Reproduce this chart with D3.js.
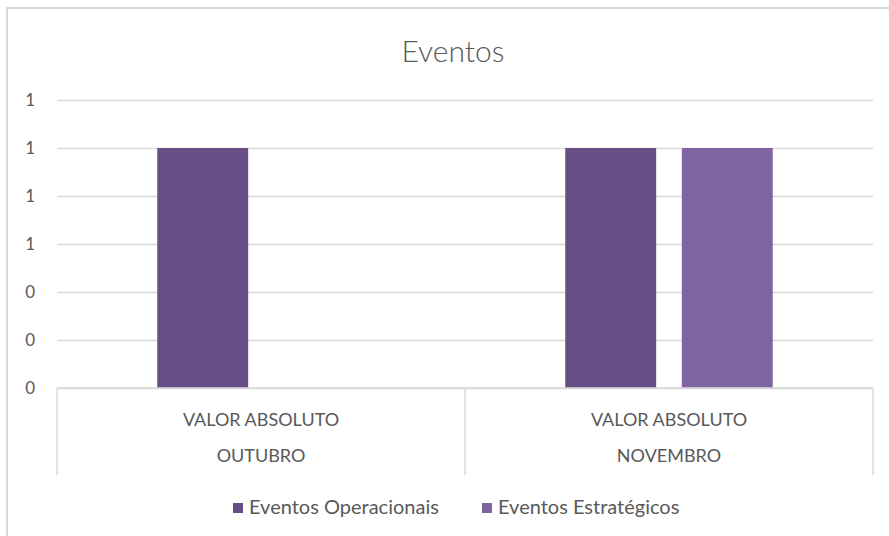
<!DOCTYPE html>
<html>
<head>
<meta charset="utf-8">
<script src="https://cdn.jsdelivr.net/npm/d3@7"></script>
<style>
  body { margin: 0; background: #fff; }
  text { font-family: "Lato", sans-serif; fill: #595959; }
</style>
</head>
<body>
<svg width="889" height="536"></svg>
<script>
  const title = 'Eventos';
  const months = ['OUTUBRO', 'NOVEMBRO'];
  const measureLabel = 'VALOR ABSOLUTO';
  const seriesNames = ['Eventos Operacionais', 'Eventos Estratégicos'];
  const operacionais = [1, 1];
  const estrategicos = [0, 1];
  const yTicks = [0, 0.2, 0.4, 0.6, 0.8, 1, 1.2];
  const colors = ['#674f85', '#8064a2'];

  const svg = d3.select('svg');
  const width = +svg.attr('width');

  // chart area frame (cut by the window on right / bottom)
  svg.append('rect')
      .attr('x', 7).attr('y', 8)
      .attr('width', 950).attr('height', 600)
      .attr('fill', 'none')
      .attr('stroke', '#d9d9d9')
      .attr('stroke-width', 2);

  const margin = {top: 100, left: 57, right: 16, bottom: 148};
  const plotRight = width - margin.right;
  const plotBottom = 536 - margin.bottom;

  const data = months.map((m, i) => ({
    month: m,
    values: [operacionais[i], estrategicos[i]]
  }));

  const x0 = d3.scaleBand()
      .domain(months)
      .range([margin.left, plotRight]);

  const x1 = d3.scaleBand()
      .domain(seriesNames)
      .range([0, x0.bandwidth()])
      .paddingInner(0.22)
      .paddingOuter(0.86);

  const y = d3.scaleLinear()
      .domain([0, 1.2])
      .range([plotBottom, margin.top]);

  const yAxis = d3.axisLeft(y)
      .tickValues(yTicks)
      .tickFormat(d3.format('.0f'))
      .tickSize(-(plotRight - margin.left))
      .tickPadding(22);

  const yAxisG = svg.append('g')
      .attr('transform', `translate(${margin.left},0)`)
      .call(yAxis);
  yAxisG.select('.domain').remove();
  yAxisG.selectAll('line').attr('stroke', '#d9d9d9').attr('stroke-width', 1.5);
  yAxisG.selectAll('text')
      .style('font-size', '17px')
      .style('font-family', 'Lato, sans-serif')
      .attr('fill', '#595959');

  // bars
  svg.append('g').selectAll('g')
    .data(data)
    .enter().append('g')
      .attr('transform', d => `translate(${x0(d.month)},0)`)
    .selectAll('rect')
    .data(d => d.values.map((v, i) => ({series: seriesNames[i], value: v, i})))
    .enter().append('rect')
      .attr('x', d => x1(d.series))
      .attr('width', x1.bandwidth())
      .attr('y', d => y(d.value))
      .attr('height', d => y(0) - y(d.value))
      .attr('fill', d => colors[d.i]);

  // category axis: baseline and separators
  const catG = svg.append('g');
  catG.append('line')
      .attr('x1', margin.left).attr('x2', plotRight)
      .attr('y1', plotBottom).attr('y2', plotBottom)
      .attr('stroke', '#d9d9d9').attr('stroke-width', 1.5);

  const seps = [margin.left].concat(months.map(m => x0(m) + x0.bandwidth()));
  catG.selectAll('.sep')
    .data(seps)
    .enter().append('line')
      .attr('class', 'sep')
      .attr('x1', d => d).attr('x2', d => d)
      .attr('y1', plotBottom).attr('y2', plotBottom + 87)
      .attr('stroke', '#d9d9d9').attr('stroke-width', 1.5);

  catG.selectAll('.measure')
    .data(months)
    .enter().append('text')
      .attr('class', 'measure')
      .attr('x', d => x0(d) + x0.bandwidth() / 2)
      .attr('y', plotBottom + 38)
      .attr('text-anchor', 'middle')
      .style('font-size', '18px')
      .text(measureLabel);

  catG.selectAll('.month')
    .data(months)
    .enter().append('text')
      .attr('class', 'month')
      .attr('x', d => x0(d) + x0.bandwidth() / 2)
      .attr('y', plotBottom + 74)
      .attr('text-anchor', 'middle')
      .style('font-size', '18px')
      .text(d => d);

  // title
  svg.append('text')
      .attr('x', 453)
      .attr('y', 62)
      .attr('text-anchor', 'middle')
      .style('font-size', '30px')
      .style('font-weight', 300)
      .text(title);

  // legend
  const legendX = [233, 482];
  const legend = svg.append('g').selectAll('g')
    .data(seriesNames)
    .enter().append('g')
      .attr('transform', (d, i) => `translate(${legendX[i]},503)`);
  legend.append('rect')
      .attr('width', 10).attr('height', 10)
      .attr('fill', (d, i) => colors[i]);
  legend.append('text')
      .attr('x', 16)
      .attr('y', 11)
      .style('font-size', '20px')
      .text(d => d);
</script>
</body>
</html>
